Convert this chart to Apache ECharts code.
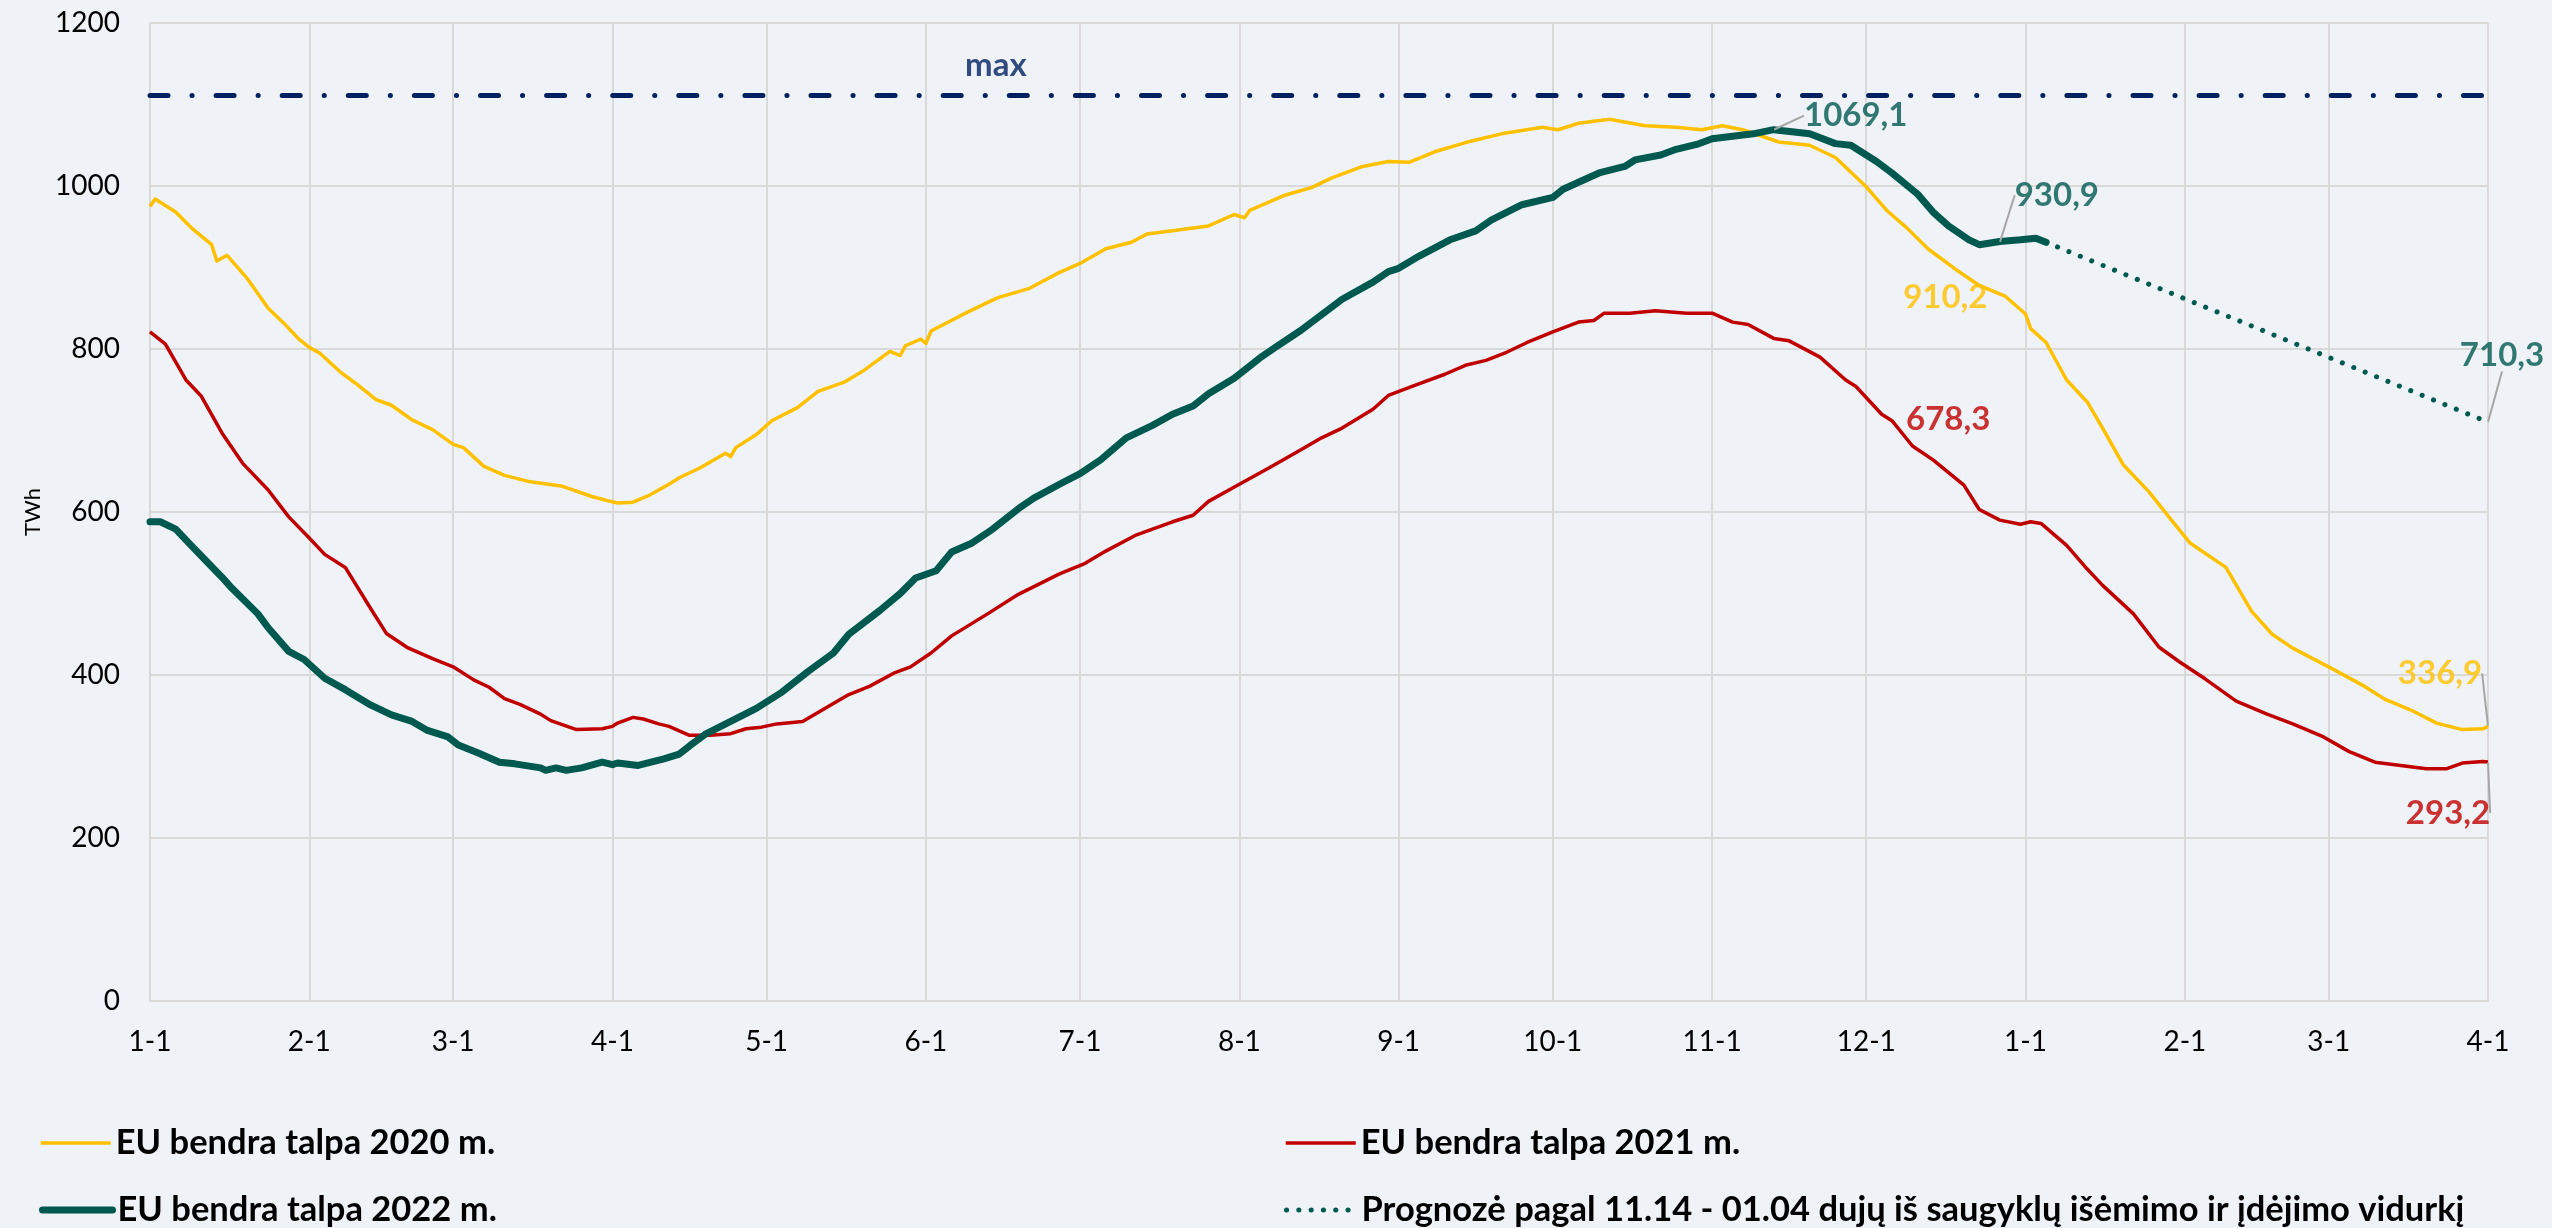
<!DOCTYPE html>
<html>
<head>
<meta charset="utf-8">
<title>EU dujų saugyklų talpa</title>
<script src="https://cdn.jsdelivr.net/npm/echarts@6/dist/echarts.min.js"></script>
<style>
  html, body { margin: 0; padding: 0; background: #EFF3F7; }
  #chart { width: 2552px; height: 1228px; }
</style>
</head>
<body>
<div id="chart"></div>
<script>
  // x = day counted from 1 January; the axis ends on 1 April of the next year (day 455)
  const seriesNames = ['EU bendra talpa 2020 m.', 'EU bendra talpa 2021 m.', 'EU bendra talpa 2022 m.',
    'Prognozė pagal 11.14 - 01.04 dujų iš saugyklų išėmimo ir įdėjimo vidurkį'];

  const storage2020 = [[0, 975], [1, 984], [5, 968], [8, 949], [12, 928], [13, 908], [15, 915], [19, 886], [23, 850],
    [26, 832], [29, 812], [31, 802], [33, 795], [37, 772], [40, 758], [44, 738], [47, 731], [51, 713], [55, 701],
    [59, 683], [61, 679], [65, 656], [69, 645], [74, 637], [80, 632], [86, 619], [89, 614], [91, 611], [94, 612],
    [97, 620], [101, 634], [103, 642], [107, 654], [112, 672], [113, 668], [114, 679], [118, 695], [121, 712],
    [126, 728], [130, 748], [135, 759], [139, 774], [144, 797], [146, 792], [147, 804], [150, 812], [151, 807],
    [152, 822], [159, 845], [165, 863], [171, 874], [177, 894], [181, 905], [186, 923], [191, 931], [194, 941],
    [199, 945], [206, 951], [211, 965], [213, 961], [214, 970], [221, 989], [226, 998], [230, 1010], [236, 1024],
    [241, 1030], [245, 1029], [250, 1042], [257, 1055], [263, 1064], [271, 1072], [274, 1069], [278, 1077],
    [284, 1082], [291, 1074], [297, 1072], [302, 1069], [306, 1074], [310, 1069], [317, 1054], [323, 1050],
    [328, 1035], [334, 999], [338, 970], [342, 948], [346, 923], [352, 895], [356, 878], [361, 865], [365, 843],
    [366, 825], [369, 808], [373, 762], [377, 735], [380, 703], [384, 658], [389, 625], [393, 593], [397, 562],
    [404, 532], [409, 478], [413, 450], [417, 433], [424, 410], [431, 386], [435, 370], [440, 357], [445, 341],
    [450, 333], [454, 334], [455, 336.9]];

  const storage2021 = [[0, 821], [3, 806], [7, 762], [10, 742], [14, 697], [18, 660], [23, 627], [27, 594], [31, 568],
    [34, 548], [38, 532], [43, 481], [46, 451], [50, 434], [55, 420], [59, 410], [63, 394], [66, 385], [69, 371],
    [72, 364], [76, 352], [78, 344], [83, 333], [88, 334], [90, 337], [91, 341], [94, 348], [96, 346], [99, 340],
    [101, 337], [105, 326], [109, 326], [113, 328], [116, 334], [119, 336], [122, 340], [127, 343], [130, 354],
    [136, 376], [140, 386], [145, 403], [148, 410], [152, 427], [156, 448], [163, 475], [169, 499], [177, 524],
    [182, 537], [186, 552], [192, 572], [199, 588], [203, 596], [206, 613], [212, 634], [218, 655], [225, 680],
    [228, 691], [232, 703], [238, 726], [241, 743], [246, 755], [252, 769], [256, 780], [260, 786], [264, 796],
    [268, 808], [273, 821], [278, 833], [281, 835], [283, 844], [288, 844], [293, 847], [299, 844], [304, 844],
    [308, 833], [311, 830], [316, 813], [319, 810], [325, 790], [330, 762], [332, 754], [337, 720], [339, 712],
    [343, 681], [347, 664], [353, 633], [356, 603], [360, 590], [364, 585], [366, 588], [368, 586], [373, 559],
    [377, 530], [380, 510], [386, 475], [391, 434], [395, 416], [400, 395], [406, 368], [412, 352], [417, 340],
    [423, 324], [428, 306], [433, 293], [438, 289], [443, 285], [447, 285], [450, 292], [454, 294], [455, 293.2]];

  const storage2022 = [[0, 588], [2, 588], [5, 579], [8, 559], [14, 520], [16, 506], [21, 475], [23, 458], [27, 429],
    [30, 419], [34, 396], [38, 382], [43, 363], [47, 351], [51, 343], [54, 332], [58, 324], [60, 314], [64, 304],
    [68, 293], [71, 291], [76, 286], [77, 283], [79, 286], [81, 283], [84, 286], [88, 293], [90, 290], [91, 292],
    [95, 289], [100, 297], [103, 303], [105, 313], [108, 327], [113, 343], [118, 359], [123, 379], [128, 404],
    [133, 427], [136, 450], [142, 479], [146, 500], [149, 519], [153, 528], [156, 551], [160, 562], [164, 579],
    [169, 604], [172, 617], [177, 634], [181, 647], [185, 664], [190, 691], [195, 706], [199, 720], [203, 730],
    [206, 745], [211, 764], [216, 789], [219, 802], [224, 823], [228, 842], [232, 861], [238, 882], [241, 895],
    [243, 899], [247, 914], [253, 934], [258, 945], [261, 958], [267, 977], [273, 986], [275, 996], [282, 1016],
    [287, 1024], [289, 1032], [294, 1038], [297, 1045], [301, 1051], [304, 1058], [308, 1061], [312, 1064],
    [316, 1069.1], [323, 1064], [328, 1052], [331, 1050], [336, 1030], [339, 1016], [344, 990], [347, 968],
    [350, 951], [354, 934], [356, 928], [360, 932], [364, 934], [367, 936], [369, 930.9]];

  const forecast2023 = [[369, 930.9], [455, 710.3]];
  const maxCapacity = [[0, 1111], [455, 1111]];

  // value labels drawn on the chart
  const calloutDays = [316, 360, 349, 341, 455, 455, 455, 165];
  const calloutValues = [1069.1, 930.9, 910.2, 678.3, 710.3, 336.9, 293.2, 1111];
  const calloutTexts = ['1069,1', '930,9', '910,2', '678,3', '710,3', '336,9', '293,2', 'max'];

  const yMin = 0, yMax = 1200, yStep = 200;

  // label styling (kept apart from the values)
  const calloutColors = ['#00594F', '#00594F', '#FFC000', '#C00000', '#00594F', '#FFC000', '#C00000', '#002060'];
  const calloutOffsets = [[82, -14], [57, -47], [2, 38], [46, -29], [14, -67], [-48, -53], [-40, 51], [-2, -30]];
  const calloutLeader = [true, true, false, false, true, true, true, false];

  // one category per day, 1 Jan .. 1 Apr next year (non-leap calendar)
  const days = [];
  for (let i = 0; i <= 455; i++) {
    days.push(new Date(Date.UTC(2021, 0, 1 + i)).toISOString().slice(0, 10));
  }
  const isMonthStart = (idx, val) => val.slice(8) === '01';

  const font = 'Lato, "Open Sans", sans-serif';
  const chart = echarts.init(document.getElementById('chart'));

  // one legend per entry, laid out as two columns
  const legendSlots = [[39, 1125], [1284, 1125], [39, 1192], [1284, 1192]];
  const legends = seriesNames.map((n, i) => ({
    data: [n],
    left: legendSlots[i][0],
    top: legendSlots[i][1],
    padding: 0,
    itemWidth: 70,
    itemHeight: 14,
    selectedMode: false,
    itemStyle: { opacity: 0, borderWidth: 0 },
    lineStyle: { width: 'inherit', opacity: 1 },
    textStyle: { fontFamily: font, fontSize: 34.5, fontWeight: 'bold', color: '#000', lineHeight: 36 }
  }));

  chart.setOption({
    animation: false,
    backgroundColor: '#EFF3F7',
    textStyle: { fontFamily: font },
    grid: { left: 150, right: 64, top: 23, bottom: 227, containLabel: false, outerBoundsMode: 'none' },
    legend: legends,
    xAxis: {
      type: 'category',
      data: days,
      boundaryGap: false,
      axisLine: { lineStyle: { color: '#D9D9D9', width: 2 } },
      axisTick: { show: false },
      axisLabel: {
        interval: isMonthStart,
        formatter: v => (+v.slice(5, 7)) + '-' + (+v.slice(8)),
        fontFamily: font, fontSize: 28, color: '#000', margin: 27
      },
      splitLine: { show: true, interval: isMonthStart, lineStyle: { color: '#D9D9D9', width: 2 } }
    },
    yAxis: {
      type: 'value',
      min: yMin, max: yMax, interval: yStep,
      name: 'TWh',
      nameLocation: 'middle',
      nameRotate: 90,
      nameGap: 92,
      nameTextStyle: { fontFamily: font, fontSize: 22, color: '#000' },
      axisLine: { show: false },
      axisTick: { show: false },
      axisLabel: { formatter: v => String(v), fontFamily: font, fontSize: 28, color: '#000', margin: 30 },
      splitLine: { lineStyle: { color: '#D9D9D9', width: 2 } }
    },
    series: [
      {
        name: seriesNames[0], type: 'line', data: storage2020, symbol: 'none', z: 2,
        itemStyle: { color: '#FFC000' },
        lineStyle: { color: '#FFC000', width: 3.5, join: 'round' }
      },
      {
        name: seriesNames[1], type: 'line', data: storage2021, symbol: 'none', z: 3,
        itemStyle: { color: '#C00000' },
        lineStyle: { color: '#C00000', width: 3.5, join: 'round' }
      },
      {
        name: seriesNames[2], type: 'line', data: storage2022, symbol: 'none', z: 4,
        itemStyle: { color: '#00594F' },
        lineStyle: { color: '#00594F', width: 7, cap: 'round', join: 'round' }
      },
      {
        name: seriesNames[3], type: 'line', data: forecast2023, symbol: 'none', z: 4,
        itemStyle: { color: '#00594F' },
        lineStyle: { color: '#00594F', width: 5, type: [0.1, 12.2], cap: 'round' }
      },
      {
        name: 'max', type: 'line', data: maxCapacity, symbol: 'none', z: 5,
        lineStyle: { color: '#002060', width: 5, type: [18, 24, 0.1, 24], cap: 'round' }
      },
      {
        name: 'labels', type: 'scatter', z: 6, silent: true,
        symbolSize: 1,
        itemStyle: { color: 'rgba(0,0,0,0)' },
        data: calloutDays.map((d, i) => ({
          value: [d, calloutValues[i]],
          label: { formatter: calloutTexts[i], color: calloutColors[i] },
          labelLine: { show: calloutLeader[i] }
        })),
        label: {
          show: true,
          position: 'inside',
          fontFamily: font,
          fontSize: 33,
          fontWeight: 'bold'
        },
        labelLine: { show: true, lineStyle: { color: '#A6A6A6', width: 2 } },
        labelLayout: p => ({ dx: calloutOffsets[p.dataIndex][0], dy: calloutOffsets[p.dataIndex][1] })
      }
    ]
  });
</script>
</body>
</html>
